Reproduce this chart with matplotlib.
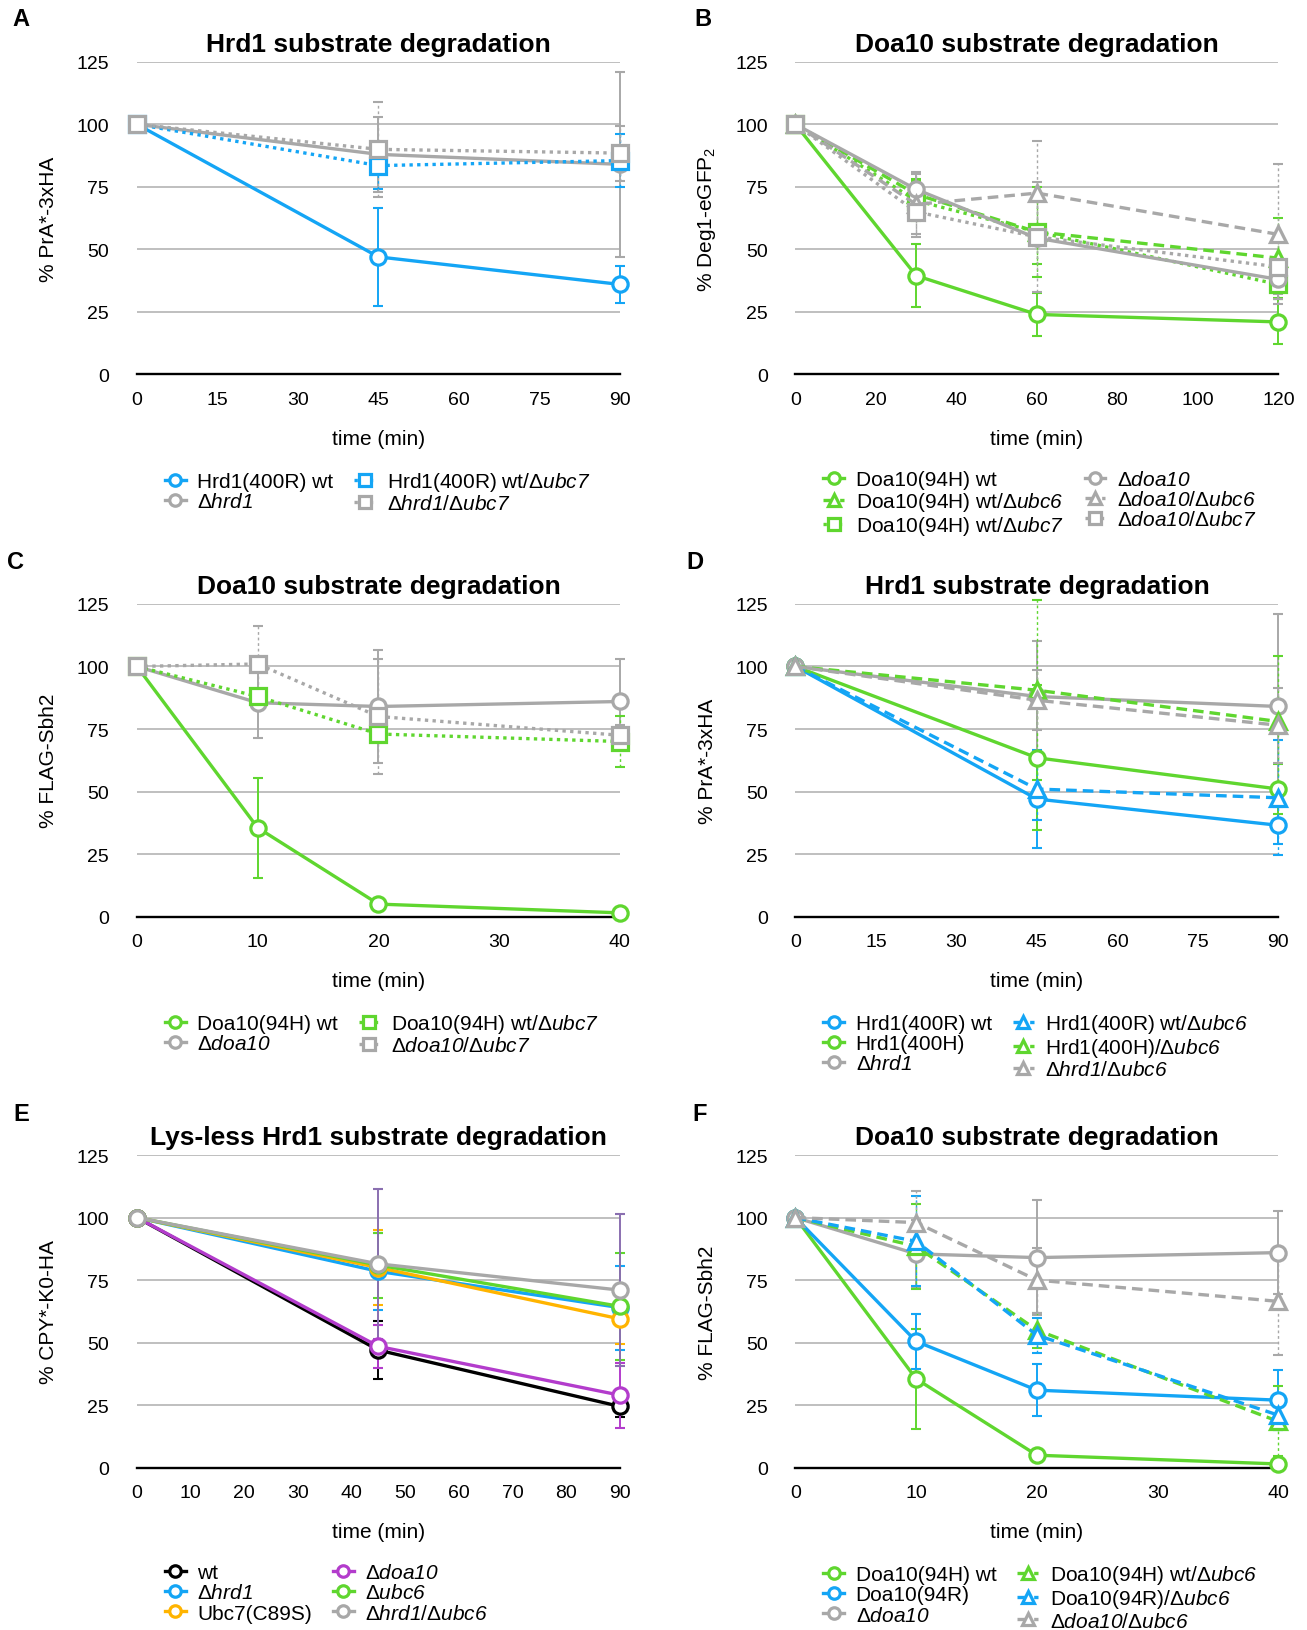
import matplotlib
matplotlib.use('Agg')
import matplotlib.pyplot as plt

plt.rcParams['font.family'] = ['Liberation Sans', 'DejaVu Sans']
plt.rcParams['mathtext.fontset'] = 'custom'
plt.rcParams['mathtext.rm'] = 'Liberation Sans'
# italic gene names: the 'sf' slot is mapped to the italic face so digits stay italic too
plt.rcParams['mathtext.sf'] = 'Liberation Sans:italic'
plt.rcParams['mathtext.it'] = 'Liberation Sans:italic'

# ---- data ----
# A
a_time = [0, 45, 90]
a_labels = ['Hrd1(400R) wt', 'Δ$\\mathsf{hrd1}$',
            'Hrd1(400R) wt/Δ$\\mathsf{ubc7}$', 'Δ$\\mathsf{hrd1}$/Δ$\\mathsf{ubc7}$']
a_mean = [[100, 47, 36], [100, 88, 84], [100, 83.5, 85.5], [100, 90, 88.5]]
a_err = [[0, 19.5, 7.3], [0, 15, 37], [0, 9.5, 10.5], [0, 19, 11]]

# B
b_time = [0, 30, 60, 120]
b_labels = ['Doa10(94H) wt', 'Doa10(94H) wt/Δ$\\mathsf{ubc6}$', 'Doa10(94H) wt/Δ$\\mathsf{ubc7}$',
            'Δ$\\mathsf{doa10}$', 'Δ$\\mathsf{doa10}$/Δ$\\mathsf{ubc6}$', 'Δ$\\mathsf{doa10}$/Δ$\\mathsf{ubc7}$']
b_mean = [[100, 39.5, 24, 21], [100, 72, 57, 46.5], [100, 69.5, 57, 36],
          [100, 74, 54.5, 38], [100, 68, 72.5, 56], [100, 65, 55, 43]]
b_err = [[0, 12.5, 8.5, 9], [0, 6, 13, 16], [0, 8, 18, 6],
         [0, 7, 3, 8], [0, 12, 21, 28], [0, 10, 22, 11]]

# C
c_time = [0, 10, 20, 40]
c_labels = ['Doa10(94H) wt', 'Δ$\\mathsf{doa10}$',
            'Doa10(94H) wt/Δ$\\mathsf{ubc7}$', 'Δ$\\mathsf{doa10}$/Δ$\\mathsf{ubc7}$']
c_mean = [[100, 35.5, 5, 1.5], [100, 85.5, 84, 86], [100, 88, 73, 70], [100, 101, 80, 72.5]]
c_err = [[0, 20, 0, 0], [0, 14, 22.5, 17], [0, 3, 3, 10], [0, 15, 23, 4]]

# D
d_time = [0, 45, 90]
d_labels = ['Hrd1(400R) wt', 'Hrd1(400H)', 'Δ$\\mathsf{hrd1}$',
            'Hrd1(400R) wt/Δ$\\mathsf{ubc6}$', 'Hrd1(400H)/Δ$\\mathsf{ubc6}$', 'Δ$\\mathsf{hrd1}$/Δ$\\mathsf{ubc6}$']
d_mean = [[100, 47, 36.5], [100, 63.5, 51], [100, 88, 84],
          [100, 51, 47.5], [100, 90.5, 78], [100, 86.5, 76.5]]
d_err = [[0, 19.5, 7.5], [0, 29, 10], [0, 22, 37],
         [0, 12.5, 23], [0, 36, 26], [0, 12, 15]]

# E
e_time = [0, 45, 90]
e_labels = ['wt', 'Δ$\\mathsf{hrd1}$', 'Ubc7(C89S)',
            'Δ$\\mathsf{doa10}$', 'Δ$\\mathsf{ubc6}$', 'Δ$\\mathsf{hrd1}$/Δ$\\mathsf{ubc6}$']
e_mean = [[100, 47, 24.5], [100, 78.5, 64], [100, 80, 59.5],
          [100, 48.5, 29], [100, 81, 64.5], [100, 81.5, 71]]
e_err = [[0, 11.7, 4.2], [0, 15.5, 16.8], [0, 15, 10],
         [0, 8.5, 13], [0, 13, 21.5], [0, 30, 30.5]]

# F
f_time = [0, 10, 20, 40]
f_labels = ['Doa10(94H) wt', 'Doa10(94R)', 'Δ$\\mathsf{doa10}$',
            'Doa10(94H) wt/Δ$\\mathsf{ubc6}$', 'Doa10(94R)/Δ$\\mathsf{ubc6}$', 'Δ$\\mathsf{doa10}$/Δ$\\mathsf{ubc6}$']
f_mean = [[100, 35.5, 5, 1.5], [100, 50.5, 31, 27], [100, 85.5, 84, 86],
          [100, 88.5, 55, 18.5], [100, 90.5, 53, 21], [100, 98, 75, 66.5]]
f_err = [[0, 20, 0, 0], [0, 11, 10.5, 12], [0, 13.5, 23, 16.5],
         [0, 17, 7, 14], [0, 18, 7, 6], [0, 12.5, 13, 21.5]]

# ---- styles ----
BLUE = '#14a5f5'
GREEN = '#5fd62f'
GRAY = '#a8a8a8'
ORANGE = '#ffb400'
PURPLE = '#b33ccc'
BLACK = '#000000'
SLATE = '#8a6fb0'

LS = {'-': '-', '--': (0, (3.2, 1.8)), ':': (0, (1, 1.3))}

a_style = [(BLUE, '-', 'o'), (GRAY, '-', 'o'), (BLUE, ':', 's'), (GRAY, ':', 's')]
b_style = [(GREEN, '-', 'o'), (GREEN, '--', '^'), (GREEN, ':', 's'),
           (GRAY, '-', 'o'), (GRAY, '--', '^'), (GRAY, ':', 's')]
c_style = [(GREEN, '-', 'o'), (GRAY, '-', 'o'), (GREEN, ':', 's'), (GRAY, ':', 's')]
d_style = [(BLUE, '-', 'o'), (GREEN, '-', 'o'), (GRAY, '-', 'o'),
           (BLUE, '--', '^'), (GREEN, '--', '^'), (GRAY, '--', '^')]
e_style = [(BLACK, '-', 'o'), (BLUE, '-', 'o'), (ORANGE, '-', 'o'),
           (PURPLE, '-', 'o'), (GREEN, '-', 'o'), (GRAY, '-', 'o')]
f_style = [(GREEN, '-', 'o'), (BLUE, '-', 'o'), (GRAY, '-', 'o'),
           (GREEN, '--', '^'), (BLUE, '--', '^'), (GRAY, '--', '^')]

fig = plt.figure(figsize=(13.07, 16.31), dpi=100)

W = 0.3695
H = 0.1917
LEFT = [0.1048, 0.6086]
BOTTOM = [0.7698, 0.4374, 0.0995]


def panel(ax, time, means, errs, labels, styles, xticks, title, ylabel, ebar_color=None):
    handles = []
    for i in range(len(means)):
        color, ls, mk = styles[i]
        xs = [t for t, e in zip(time, errs[i]) if e > 0]
        ys = [m for m, e in zip(means[i], errs[i]) if e > 0]
        es = [e for e in errs[i] if e > 0]
        ec = color
        if ebar_color is not None and color == GRAY:
            ec = ebar_color
        eb = ax.errorbar(xs, ys, yerr=es, fmt='none', ecolor=ec,
                         elinewidth=1.4 if ls == '-' else 1.0,
                         capsize=3.6, capthick=1.5, zorder=2, clip_on=False)
        if ls != '-':
            eb[2][0].set_linestyle((0, (2, 2)))
        ln, = ax.plot(time, means[i], color=color, linestyle=LS[ls], lw=2.4,
                      marker=mk, ms=11 if mk != '^' else 11.5, mfc='white', mec=color,
                      mew=2.3, zorder=3 + i * 0.01, clip_on=False)
        handles.append(ln)

    ax.set_xlim(0, xticks[-1])
    ax.set_ylim(0, 125)
    ax.set_xticks(xticks)
    ax.set_yticks([0, 25, 50, 75, 100, 125])
    ax.yaxis.grid(True, color='#bababa', lw=1.3)
    ax.set_axisbelow(True)
    for s in ['left', 'top', 'right']:
        ax.spines[s].set_visible(False)
    ax.spines['bottom'].set_color('black')
    ax.spines['bottom'].set_linewidth(1.7)
    ax.spines['bottom'].set_zorder(2.5)
    ax.tick_params(axis='both', length=0, labelsize=14)
    ax.tick_params(axis='x', pad=12)
    ax.tick_params(axis='y', pad=20)

    ax.set_title(title, fontsize=19, fontweight='bold', pad=8)
    ax.set_ylabel(ylabel, fontsize=15)
    ax.yaxis.set_label_coords(-0.183, 0.5)
    ax.yaxis.label.set_va('center')
    ax.set_xlabel('time (min)', fontsize=15)
    ax.xaxis.set_label_coords(0.5, -0.205)
    ax.xaxis.label.set_va('center')

    ax.legend(handles, labels, loc='upper left', bbox_to_anchor=(0.058, -0.305),
              ncol=2, frameon=False, fontsize=15, handlelength=1.0,
              handletextpad=0.55, columnspacing=1.0, labelspacing=0.06,
              borderpad=0, borderaxespad=0, markerscale=0.75)


ax_a = fig.add_axes([LEFT[0], BOTTOM[0], W, H])
panel(ax_a, a_time, a_mean, a_err, a_labels, a_style, [0, 15, 30, 45, 60, 75, 90],
      'Hrd1 substrate degradation', '% PrA*-3xHA')

ax_b = fig.add_axes([LEFT[1], BOTTOM[0], W, H])
panel(ax_b, b_time, b_mean, b_err, b_labels, b_style, [0, 20, 40, 60, 80, 100, 120],
      'Doa10 substrate degradation', '% Deg1-eGFP$_2$')

ax_c = fig.add_axes([LEFT[0], BOTTOM[1], W, H])
panel(ax_c, c_time, c_mean, c_err, c_labels, c_style, [0, 10, 20, 30, 40],
      'Doa10 substrate degradation', '% FLAG-Sbh2')

ax_d = fig.add_axes([LEFT[1], BOTTOM[1], W, H])
panel(ax_d, d_time, d_mean, d_err, d_labels, d_style, [0, 15, 30, 45, 60, 75, 90],
      'Hrd1 substrate degradation', '% PrA*-3xHA')

ax_e = fig.add_axes([LEFT[0], BOTTOM[2], W, H])
panel(ax_e, e_time, e_mean, e_err, e_labels, e_style, [0, 10, 20, 30, 40, 50, 60, 70, 80, 90],
      'Lys-less Hrd1 substrate degradation', '% CPY*-K0-HA', ebar_color=SLATE)

ax_f = fig.add_axes([LEFT[1], BOTTOM[2], W, H])
panel(ax_f, f_time, f_mean, f_err, f_labels, f_style, [0, 10, 20, 30, 40],
      'Doa10 substrate degradation', '% FLAG-Sbh2')

for letter, x, y in [('A', 0.016, 0.988), ('B', 0.538, 0.988),
                     ('C', 0.0115, 0.655), ('D', 0.532, 0.655),
                     ('E', 0.016, 0.3164), ('F', 0.5356, 0.3164)]:
    fig.text(x, y, letter, fontsize=17, fontweight='bold', ha='center', va='center')

fig.savefig('out.png', dpi=100)
